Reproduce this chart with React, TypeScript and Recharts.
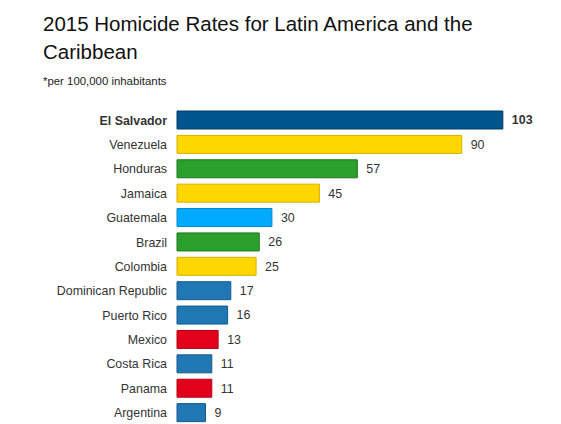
import { BarChart, Bar, XAxis, YAxis, Cell, LabelList } from "recharts"

const countries = [
    "El Salvador",
    "Venezuela",
    "Honduras",
    "Jamaica",
    "Guatemala",
    "Brazil",
    "Colombia",
    "Dominican Republic",
    "Puerto Rico",
    "Mexico",
    "Costa Rica",
    "Panama",
    "Argentina",
]

const rates = [103, 90, 57, 45, 30, 26, 25, 17, 16, 13, 11, 11, 9]

const highlighted = "El Salvador"

const barFills = [
    "#00568c", "#ffd700", "#2ca02c", "#ffd700", "#00aaff", "#2ca02c", "#ffd700",
    "#1f77b4", "#1f77b4", "#e3001b", "#1f77b4", "#e3001b", "#1f77b4",
]

const barStrokes = [
    "#003d6b", "#d4b000", "#177a17", "#d4b000", "#0088cc", "#177a17", "#d4b000",
    "#155a8a", "#155a8a", "#b30015", "#155a8a", "#b30015", "#155a8a",
]

const data = countries.map((country, i) => ({ country, rate: rates[i] }))

const font = "'Liberation Sans', Arial, sans-serif"

function CountryTick(props: any) {
    const { x, y, payload } = props
    const bold = payload.value === highlighted
    return (
        <text
            x={x}
            y={y}
            dy="0.355em"
            textAnchor="end"
            fill="#333"
            fontSize={12.4}
            fontFamily={font}
            fontWeight={bold ? "bold" : "normal"}
        >
            {payload.value}
        </text>
    )
}

function ValueLabel(props: any) {
    const { x, y, width, height, value, index } = props
    const bold = countries[index] === highlighted
    return (
        <text
            x={Number(x) + Number(width) + 9}
            y={Number(y) + Number(height) / 2}
            dy="0.355em"
            textAnchor="start"
            fill="#333"
            fontSize={12.4}
            fontFamily={font}
            fontWeight={bold ? "bold" : "normal"}
        >
            {value}
        </text>
    )
}

export default function App() {
    return (
        <div
            style={{
                position: "absolute",
                left: 0,
                top: 0,
                width: 561,
                height: 424,
                overflow: "hidden",
                background: "#fff",
                fontFamily: font,
            }}
        >
            <div
                style={{
                    position: "absolute",
                    left: 43,
                    top: 10,
                    fontSize: 20.5,
                    lineHeight: "27.6px",
                    color: "#111",
                    whiteSpace: "nowrap",
                }}
            >
                2015 Homicide Rates for Latin America and the
                <br />
                Caribbean
            </div>
            <div
                style={{
                    position: "absolute",
                    left: 43,
                    top: 76,
                    fontSize: 11.4,
                    lineHeight: "11.4px",
                    color: "#222",
                    whiteSpace: "nowrap",
                }}
            >
                *per 100,000 inhabitants
            </div>
            <div style={{ position: "absolute", left: 0, top: 0 }}>
                <BarChart
                    width={561}
                    height={425}
                    data={data}
                    layout="vertical"
                    margin={{ top: 108, right: 36, left: 0, bottom: 0 }}
                    barSize={18}
                >
                    <XAxis type="number" domain={[0, 110]} hide />
                    <YAxis
                        type="category"
                        dataKey="country"
                        width={177}
                        axisLine={false}
                        tickLine={false}
                        tickSize={6}
                        tickMargin={4}
                        interval={0}
                        tick={<CountryTick />}
                    />
                    <Bar dataKey="rate" isAnimationActive={false}>
                        {data.map((d, i) => (
                            <Cell key={d.country} fill={barFills[i]} stroke={barStrokes[i]} strokeWidth={1} />
                        ))}
                        <LabelList dataKey="rate" content={<ValueLabel />} />
                    </Bar>
                </BarChart>
            </div>
        </div>
    )
}
